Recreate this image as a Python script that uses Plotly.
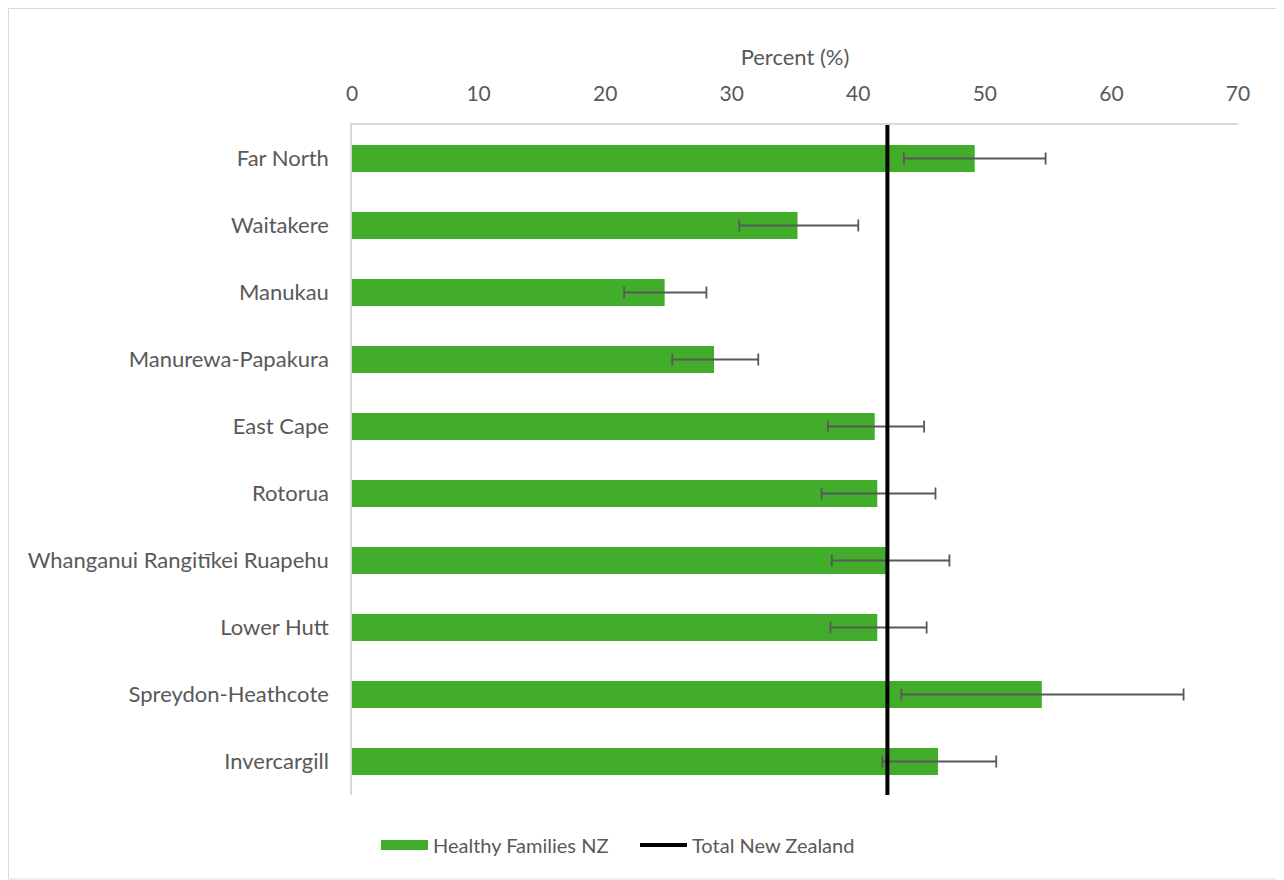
import plotly.graph_objects as go

categories = ["Far North", "Waitakere", "Manukau", "Manurewa-Papakura", "East Cape",
              "Rotorua", "Whanganui Rangitīkei Ruapehu", "Lower Hutt",
              "Spreydon-Heathcote", "Invercargill"]
values = [49.2, 35.2, 24.7, 28.6, 41.3, 41.5, 42.3, 41.5, 54.5, 46.3]
ci_low = [43.6, 30.6, 21.5, 25.3, 37.6, 37.1, 37.9, 37.8, 43.4, 41.9]
ci_high = [54.8, 40.0, 28.0, 32.1, 45.2, 46.1, 47.2, 45.4, 65.7, 50.9]
total_nz = 42.3
x_ticks = [0, 10, 20, 30, 40, 50, 60, 70]

err_plus = [h - v for h, v in zip(ci_high, values)]
err_minus = [v - l for v, l in zip(values, ci_low)]

FONT = "Lato"
GREY = "#595959"
GREEN = "#41AD2A"

fig = go.Figure()
fig.add_trace(go.Bar(
    y=categories, x=values, orientation="h", name="Healthy Families NZ",
    marker=dict(color=GREEN, line=dict(width=0)), width=0.4, showlegend=False,
    error_x=dict(type="data", array=err_plus, arrayminus=err_minus,
                 color=GREY, thickness=1.8, width=6),
))
# legend swatch for the bars (wide rectangle like the original)
fig.add_trace(go.Scatter(
    x=[None], y=[None], mode="lines", name="Healthy Families NZ",
    line=dict(color=GREEN, width=14),
))
fig.add_trace(go.Scatter(
    x=[total_nz, total_nz], y=[0, 1], yaxis="y2", mode="lines",
    name="Total New Zealand", line=dict(color="black", width=4),
))

OFF = 8  # page offset of the figure inside the browser window
W, H = 1284 - OFF, 880 - OFF
L, R, T, B = 352 - OFF, 46, 125 - OFF, 85
pw, ph = W - L - R, H - T - B

def px(x):
    return (x - OFF - L) / pw

def py(y):
    return (H - B - (y - OFF)) / ph

fig.update_layout(
    width=W, height=H,
    margin=dict(l=L, r=R, t=T, b=B),
    plot_bgcolor="white", paper_bgcolor="white",
    font=dict(family=FONT, size=21, color=GREY),
    showlegend=True,
    legend=dict(orientation="h", x=px(635), y=py(845), xanchor="center", yanchor="middle",
                font=dict(family=FONT, size=20, color=GREY), itemwidth=47,
                entrywidth=197, traceorder="normal"),
    xaxis=dict(range=[0, 70], side="top", tickvals=x_ticks, showgrid=False,
               zeroline=False, showline=True, linecolor="#D9D9D9", linewidth=1.5,
               ticks="", ticklabelstandoff=14,
               title=dict(text="Percent (%)", standoff=8, font=dict(size=22, color=GREY)),
               tickfont=dict(size=21, color=GREY)),
    yaxis=dict(autorange="reversed", showgrid=False, zeroline=False,
               showline=True, linecolor="#D9D9D9", linewidth=1.5, ticks="",
               ticklabelstandoff=17, tickfont=dict(size=22, color=GREY)),
    yaxis2=dict(overlaying="y", range=[0, 1], visible=False, fixedrange=True),
    shapes=[dict(type="rect", xref="paper", yref="paper",
                 x0=px(8.5), x1=px(1278), y0=py(879), y1=py(8.5),
                 line=dict(color="#D9D9D9", width=1), fillcolor="rgba(0,0,0,0)",
                 layer="below")],
)

fig.write_html("out.html")
